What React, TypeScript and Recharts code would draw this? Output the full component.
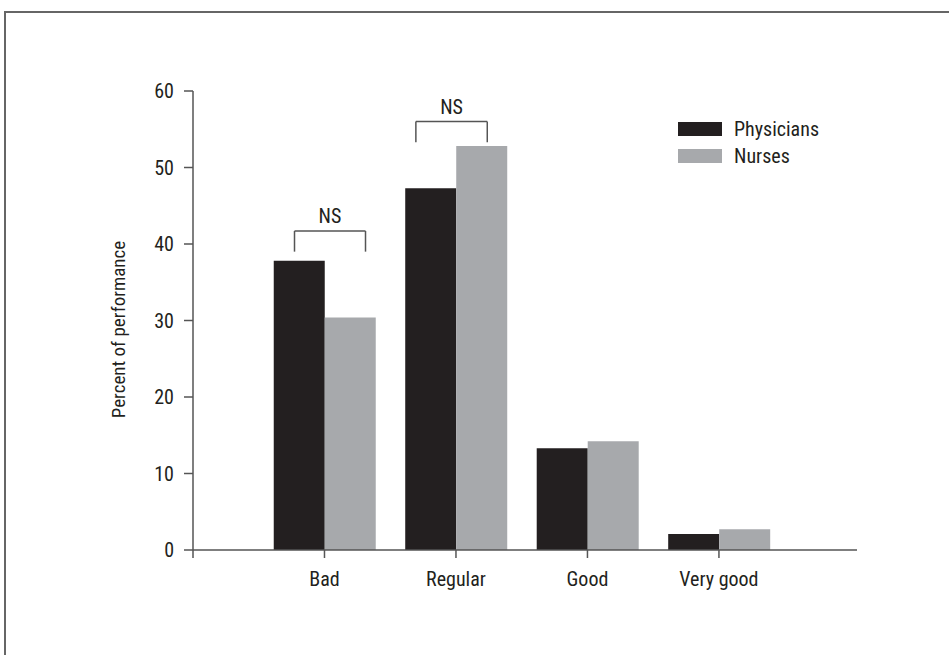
import { BarChart, Bar, XAxis, YAxis, ReferenceLine } from "recharts";

const categories = ["Bad", "Regular", "Good", "Very good"];
const physicians = [37.8, 47.3, 13.3, 2.1];
const nurses = [30.4, 52.8, 14.2, 2.7];
const yTicks = [0, 10, 20, 30, 40, 50, 60];

// NS brackets: [left x, right x, top y, bottom y] in axis units
const brackets = [
  [0.772, 1.312, 41.7, 39.0],
  [1.695, 2.238, 56.0, 53.3],
];

const data = categories.map((name, i) => ({
  pos: i + 1,
  name,
  physicians: physicians[i],
  nurses: nurses[i],
}));

const FONT = '"Roboto Condensed", "Liberation Sans Narrow", Roboto, sans-serif';
const INK = "#231f20";
const DARK = "#231f20";
const GREY = "#a7a9ac";
const AXIS = "#555";

const legendItems = [
  { label: "Physicians", color: DARK },
  { label: "Nurses", color: GREY },
];

const LegendBox = () => (
  <div
    style={{
      position: "absolute",
      left: 678,
      top: 115,
      fontFamily: FONT,
      fontSize: 20,
      color: INK,
    }}
  >
    {legendItems.map((it) => (
      <div key={it.label} style={{ display: "flex", alignItems: "center", height: 27 }}>
        <div style={{ width: 44, height: 14, background: it.color, marginRight: 12 }} />
        <span>{it.label}</span>
      </div>
    ))}
  </div>
);

const YLabel = (props: any) => {
  const { viewBox } = props;
  const cx = viewBox.x - 15;
  const cy = viewBox.y + viewBox.height / 2 + 9;
  return (
    <text
      x={cx}
      y={cy}
      transform={`rotate(-90 ${cx} ${cy})`}
      textAnchor="middle"
      dominantBaseline="central"
      fill={INK}
      fontSize={19}
      fontFamily={FONT}
    >
      Percent of performance
    </text>
  );
};

export default function App() {
  return (
    <div
      style={{
        position: "fixed",
        left: 0,
        top: 0,
        width: 949,
        height: 655,
        overflow: "hidden",
        background: "#fff",
        fontFamily: FONT,
      }}
    >
      <div
        style={{
          position: "absolute",
          left: 4,
          top: 11,
          width: 1000,
          height: 700,
          borderLeft: "2px solid #666",
          borderTop: "2px solid #666",
        }}
      />
      <div style={{ position: "absolute", left: 0, top: 0 }}>
        <BarChart
          width={949}
          height={655}
          data={data}
          barGap={0}
          barSize={51}
          margin={{ top: 91, right: 92, bottom: 75, left: 133 }}
        >
          <XAxis
            dataKey="pos"
            type="number"
            domain={[0, 5.05]}
            ticks={[0, 1, 2, 3, 4]}
            tickFormatter={(v: number) => categories[v - 1] ?? ""}
            tickSize={8}
            tickMargin={14}
            stroke={AXIS}
            strokeWidth={1.5}
            tick={{ fill: INK, fontSize: 20, fontFamily: FONT }}
            height={30}
            allowDataOverflow
          />
          <YAxis
            domain={[0, 60]}
            ticks={yTicks}
            width={60}
            tickSize={9}
            tickMargin={10}
            stroke={AXIS}
            strokeWidth={1.5}
            tick={{ fill: INK, fontSize: 20, fontFamily: FONT }}
            label={<YLabel />}
          />
          <Bar dataKey="physicians" name="Physicians" fill={DARK} isAnimationActive={false} />
          <Bar dataKey="nurses" name="Nurses" fill={GREY} isAnimationActive={false} />
          {brackets.map(([x1, x2, yt, yb], i) => [
            <ReferenceLine
              key={`h${i}`}
              segment={[{ x: x1, y: yt }, { x: x2, y: yt }]}
              stroke={AXIS}
              strokeWidth={1.5}
              ifOverflow="visible"
              label={{ value: "NS", position: "top", offset: 8, fill: INK, fontSize: 20, fontFamily: FONT }}
            />,
            <ReferenceLine
              key={`l${i}`}
              segment={[{ x: x1, y: yt }, { x: x1, y: yb }]}
              stroke={AXIS}
              strokeWidth={1.5}
              ifOverflow="visible"
            />,
            <ReferenceLine
              key={`r${i}`}
              segment={[{ x: x2, y: yt }, { x: x2, y: yb }]}
              stroke={AXIS}
              strokeWidth={1.5}
              ifOverflow="visible"
            />,
          ])}
        </BarChart>
      </div>
      <LegendBox />
    </div>
  );
}
